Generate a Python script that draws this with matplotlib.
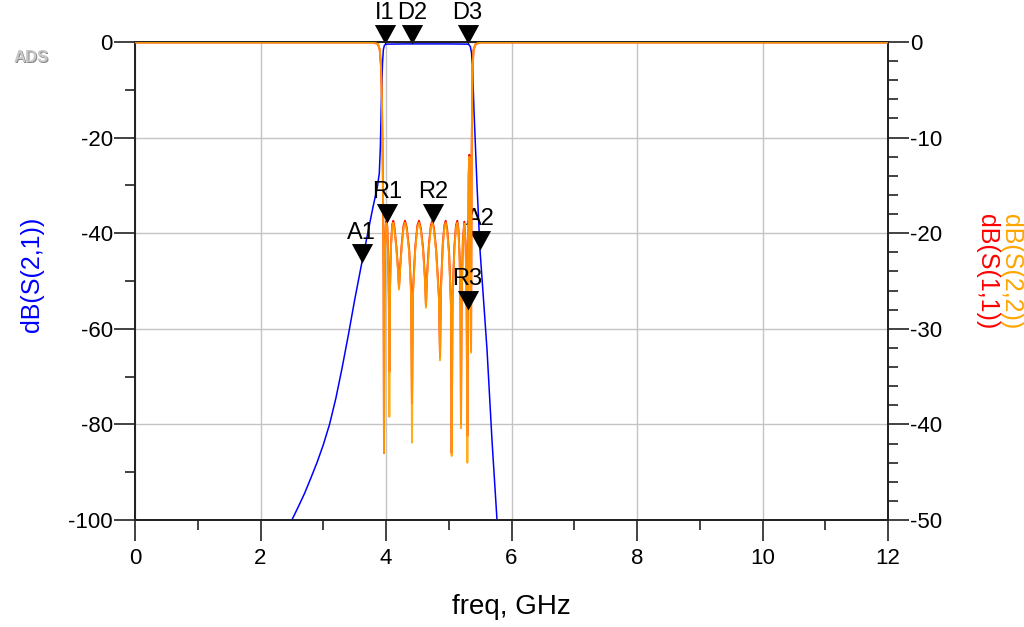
import matplotlib
matplotlib.use("Agg")
import matplotlib.pyplot as plt
from matplotlib.ticker import MultipleLocator

plt.rcParams['font.family'] = ['Liberation Sans', 'DejaVu Sans']
plt.rcParams['axes.unicode_minus'] = False

# ---------------- data ----------------
# S21 (left axis, dB)
s21_freq = [2.50, 2.60, 2.70, 2.80, 2.90, 3.00, 3.10, 3.20, 3.30, 3.40,
            3.50, 3.613, 3.70, 3.793, 3.860, 3.893, 3.910, 3.925, 3.944, 3.958,
            3.975, 4.00, 4.30, 4.70, 5.00, 5.30, 5.323, 5.345, 5.362, 5.378,
            5.402, 5.450, 5.498, 5.560, 5.610, 5.689, 5.769]
s21_db = [-100.0, -97.3, -94.5, -91.3, -88.0, -84.3, -80.0, -74.6, -68.2, -61.3,
          -54.0, -46.3, -40.6, -34.5, -30.5, -27.5, -22.0, -13.0, -4.5, -1.6,
          -0.7, -0.45, -0.4, -0.4, -0.4, -0.45, -0.55, -1.0, -2.2, -5.0,
          -14.2, -29.9, -43.5, -55.0, -64.4, -83.3, -100.0]

# S22 (right axis, dB)
s22_freq = [0.0, 3.80, 3.87, 3.90, 3.92, 3.935, 3.950, 3.962, 3.968, 3.975,
            3.985, 3.997, 4.008, 4.020, 4.035, 4.046, 4.053, 4.062, 4.080, 4.100,
            4.116, 4.135, 4.165, 4.190, 4.207, 4.225, 4.250, 4.280, 4.303, 4.330,
            4.370, 4.400, 4.414, 4.430, 4.465, 4.500, 4.526, 4.555, 4.590, 4.620,
            4.637, 4.655, 4.685, 4.715, 4.738, 4.765, 4.800, 4.845, 4.861, 4.875,
            4.905, 4.930, 4.951, 4.975, 5.005, 5.035, 5.047, 5.060, 5.090, 5.115,
            5.136, 5.155, 5.175, 5.188, 5.195, 5.205, 5.225, 5.248, 5.270, 5.285,
            5.296, 5.307, 5.318, 5.328, 5.342, 5.355, 5.365, 5.378, 5.395, 5.430,
            5.500, 12.0]
s22_db = [-0.05, -0.05, -0.2, -0.8, -2.5, -6.0, -14.0, -25.0, -43.0, -27.0,
          -21.5, -19.3, -18.9, -19.5, -23.0, -28.0, -39.2, -27.0, -21.3, -19.3,
          -18.9, -19.6, -21.6, -23.8, -25.9, -23.8, -21.4, -19.4, -18.9, -19.6,
          -22.0, -26.5, -41.9, -26.5, -21.8, -19.4, -18.9, -19.7, -21.7, -24.8,
          -27.8, -24.5, -21.3, -19.4, -18.9, -19.7, -22.0, -27.0, -33.3, -26.0,
          -21.3, -19.4, -18.9, -19.8, -22.2, -27.5, -43.3, -27.0, -21.6, -19.4,
          -18.9, -19.8, -23.0, -28.0, -40.4, -27.0, -21.0, -19.0, -21.5, -27.0,
          -44.0, -25.0, -14.0, -12.0, -20.0, -32.5, -12.0, -3.0, -0.8, -0.2,
          -0.05, -0.05]

# S11 (right axis, dB)
s11_freq = s22_freq
s11_db = [-0.05, -0.05, -0.2, -0.8, -2.5, -6.0, -14.0, -25.0, -43.0, -27.0,
          -21.3, -19.1, -18.7, -19.3, -22.5, -26.5, -34.5, -26.0, -21.1, -19.1,
          -18.7, -19.4, -21.4, -23.6, -25.7, -23.6, -21.2, -19.2, -18.7, -19.4,
          -21.8, -26.0, -37.8, -26.0, -21.6, -19.2, -18.7, -19.5, -21.5, -24.6,
          -27.6, -24.3, -21.1, -19.2, -18.7, -19.5, -21.8, -26.8, -33.0, -25.8,
          -21.1, -19.2, -18.7, -19.6, -22.0, -27.3, -43.0, -26.8, -21.4, -19.2,
          -18.7, -19.6, -22.8, -27.8, -40.0, -26.8, -20.8, -18.8, -21.3, -26.5,
          -41.2, -24.8, -13.8, -11.8, -19.8, -32.3, -12.0, -3.0, -0.8, -0.2,
          -0.05, -0.05]

# markers
left_marker_names = ['A1', 'I1', 'D2', 'D3', 'A2']
left_marker_freq = [3.613, 3.985, 4.41, 5.30, 5.498]
left_marker_db = [-46.3, -0.4, -0.4, -0.4, -43.5]
right_marker_names = ['R1', 'R2', 'R3']
right_marker_freq = [4.011, 4.754, 5.30]
right_marker_db = [-18.9, -18.9, -28.0]

x_ticks = [0, 2, 4, 6, 8, 10, 12]
left_ticks = [0, -20, -40, -60, -80, -100]
right_ticks = [0, -10, -20, -30, -40, -50]

# ---------------- figure ----------------
W, H = 1024, 627
fig = plt.figure(figsize=(W / 100, H / 100), dpi=100)
ax = fig.add_axes([135 / W, 1 - 520 / H, 753 / W, 478 / H])
ax2 = ax.twinx()

ax.set_xlim(0, 12)
ax.set_ylim(-100, 0)
ax2.set_ylim(-50, 0)

axis_col = '#222222'
for a in (ax, ax2):
    for s in a.spines.values():
        s.set_color(axis_col)
        s.set_linewidth(1.3)

ax.grid(True, which='major', color='#c4c4c4', linewidth=1.0)
ax.set_axisbelow(True)

ax.set_xticks(x_ticks)
ax.xaxis.set_minor_locator(MultipleLocator(1))
ax.set_yticks(left_ticks)
ax.yaxis.set_minor_locator(MultipleLocator(10))
ax2.set_yticks(right_ticks)
ax2.yaxis.set_minor_locator(MultipleLocator(2))

ax.tick_params(axis='both', which='major', direction='out', length=15, width=1.2,
               color=axis_col, labelsize=16)
ax.tick_params(axis='both', which='minor', direction='out', length=7.5, width=1.2,
               color=axis_col)
ax.tick_params(axis='x', which='both', pad=5, top=False)
ax.tick_params(axis='y', which='both', pad=1, right=False)
ax2.tick_params(axis='y', which='major', direction='out', length=15, width=1.2,
                color=axis_col, labelsize=16, pad=1)
ax2.tick_params(axis='y', which='minor', direction='out', length=7.5, width=1.2,
                color=axis_col)

# curves
ax.plot(s21_freq, s21_db, color='#0000ff', linewidth=1.1, zorder=3)
ax2.plot(s11_freq, s11_db, color='#ff0000', linewidth=1.4, zorder=2)
ax2.plot(s22_freq, s22_db, color='#ffa500', linewidth=1.4, alpha=0.9, zorder=3)

# marker triangles (tip at the data point)
tri = [(-0.545, 1.0), (0.545, 1.0), (0.0, 0.0), (-0.545, 1.0)]
for a, names, fs, vs in ((ax, left_marker_names, left_marker_freq, left_marker_db),
                         (ax2, right_marker_names, right_marker_freq, right_marker_db)):
    a.plot(fs, vs, linestyle='none', marker=tri, markersize=28, color='black',
           markeredgewidth=0, clip_on=False, zorder=6)
    for n, f, v in zip(names, fs, vs):
        a.annotate(n, xy=(f, v), xytext=(0, 14), textcoords='offset points',
                   ha='center', va='bottom', fontsize=17, color='black',
                   annotation_clip=False, zorder=7)

# axis labels
fig.text(511 / W, 1 - 607 / H, 'freq, GHz', ha='center', va='center', fontsize=20)
fig.text(32 / W, 1 - 274 / H, 'dB(S(2,1))', ha='center', va='center', fontsize=18,
         rotation=90, color='#0000ff')
fig.text(1011 / W, 1 - 272 / H, 'dB(S(2,2))', ha='center', va='center', fontsize=18,
         rotation=-90, color='#ffa500')
fig.text(987 / W, 1 - 272 / H, 'dB(S(1,1))', ha='center', va='center', fontsize=18,
         rotation=-90, color='#ff0000')

# ADS logo
fig.text(31 / W + 0.8 / W, 1 - 58 / H - 0.8 / H, 'ADS', ha='center', va='center',
         fontsize=12, fontweight='bold', color='#888888')
fig.text(31 / W, 1 - 58 / H, 'ADS', ha='center', va='center',
         fontsize=12, fontweight='bold', color='#c8c8c8')

fig.savefig('out.png', dpi=100)
